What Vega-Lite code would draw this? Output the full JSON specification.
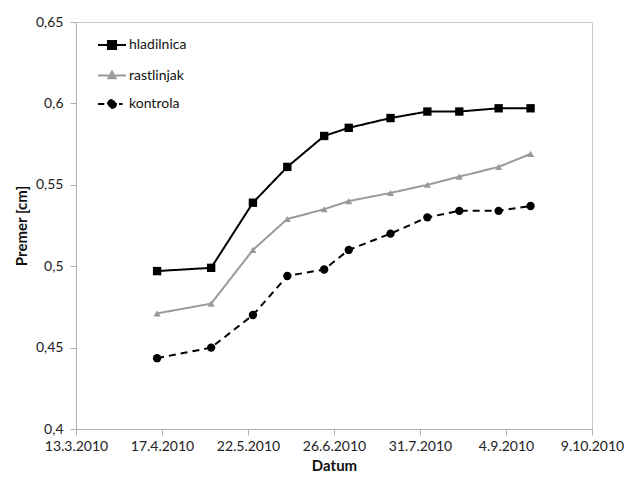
{
  "$schema": "https://vega.github.io/schema/vega-lite/v6.json",
  "width": 516,
  "height": 407,
  "autosize": {"type": "none"},
  "padding": {"left": 76, "top": 22, "right": 34, "bottom": 53},
  "background": "white",
  "config": {
    "font": "Lato",
    "view": {"stroke": "#c8c8c8", "strokeWidth": 1},
    "axis": {
      "grid": false,
      "domainColor": "#b0b0b0",
      "tickColor": "#b0b0b0",
      "tickSize": 6,
      "labelFont": "Lato",
      "labelFontSize": 14,
      "labelColor": "#222",
      "titleFont": "Lato",
      "titleFontSize": 15,
      "titleFontWeight": "bold",
      "titleColor": "#111"
    }
  },
  "data": {
    "values": [
      {"date": "2010-04-15", "series": "hladilnica", "value": 0.497},
      {"date": "2010-05-07", "series": "hladilnica", "value": 0.499},
      {"date": "2010-05-24", "series": "hladilnica", "value": 0.539},
      {"date": "2010-06-07", "series": "hladilnica", "value": 0.561},
      {"date": "2010-06-22", "series": "hladilnica", "value": 0.580},
      {"date": "2010-07-02", "series": "hladilnica", "value": 0.585},
      {"date": "2010-07-19", "series": "hladilnica", "value": 0.591},
      {"date": "2010-08-03", "series": "hladilnica", "value": 0.595},
      {"date": "2010-08-16", "series": "hladilnica", "value": 0.595},
      {"date": "2010-09-01", "series": "hladilnica", "value": 0.597},
      {"date": "2010-09-14", "series": "hladilnica", "value": 0.597},
      {"date": "2010-04-15", "series": "rastlinjak", "value": 0.471},
      {"date": "2010-05-07", "series": "rastlinjak", "value": 0.477},
      {"date": "2010-05-24", "series": "rastlinjak", "value": 0.510},
      {"date": "2010-06-07", "series": "rastlinjak", "value": 0.529},
      {"date": "2010-06-22", "series": "rastlinjak", "value": 0.535},
      {"date": "2010-07-02", "series": "rastlinjak", "value": 0.540},
      {"date": "2010-07-19", "series": "rastlinjak", "value": 0.545},
      {"date": "2010-08-03", "series": "rastlinjak", "value": 0.550},
      {"date": "2010-08-16", "series": "rastlinjak", "value": 0.555},
      {"date": "2010-09-01", "series": "rastlinjak", "value": 0.561},
      {"date": "2010-09-14", "series": "rastlinjak", "value": 0.569},
      {"date": "2010-04-15", "series": "kontrola", "value": 0.4435},
      {"date": "2010-05-07", "series": "kontrola", "value": 0.450},
      {"date": "2010-05-24", "series": "kontrola", "value": 0.470},
      {"date": "2010-06-07", "series": "kontrola", "value": 0.494},
      {"date": "2010-06-22", "series": "kontrola", "value": 0.498},
      {"date": "2010-07-02", "series": "kontrola", "value": 0.510},
      {"date": "2010-07-19", "series": "kontrola", "value": 0.520},
      {"date": "2010-08-03", "series": "kontrola", "value": 0.530},
      {"date": "2010-08-16", "series": "kontrola", "value": 0.534},
      {"date": "2010-09-01", "series": "kontrola", "value": 0.534},
      {"date": "2010-09-14", "series": "kontrola", "value": 0.537}
    ]
  },
  "encoding": {
    "x": {
      "field": "date",
      "type": "temporal",
      "title": "Datum",
      "scale": {
        "type": "utc",
        "domain": [
          {"year": 2010, "month": 3, "date": 13, "utc": true},
          {"year": 2010, "month": 10, "date": 9, "utc": true}
        ]
      },
      "axis": {
        "values": [
          {"year": 2010, "month": 3, "date": 13, "utc": true},
          {"year": 2010, "month": 4, "date": 17, "utc": true},
          {"year": 2010, "month": 5, "date": 22, "utc": true},
          {"year": 2010, "month": 6, "date": 26, "utc": true},
          {"year": 2010, "month": 7, "date": 31, "utc": true},
          {"year": 2010, "month": 9, "date": 4, "utc": true},
          {"year": 2010, "month": 10, "date": 9, "utc": true}
        ],
        "labelExpr": "utcFormat(datum.value, '%-d.%-m.%Y')",
        "labelPadding": 4,
        "titlePadding": 5,
        "labelFlush": false,
        "labelOverlap": false
      }
    },
    "y": {
      "field": "value",
      "type": "quantitative",
      "title": "Premer [cm]",
      "scale": {"domain": [0.4, 0.65], "nice": false, "zero": false},
      "axis": {
        "values": [0.4, 0.45, 0.5, 0.55, 0.6, 0.65],
        "labelExpr": "replace(format(datum.value, '.2~f'), '.', ',')",
        "labelPadding": 7,
        "titlePadding": 6
      }
    },
    "color": {
      "field": "series",
      "type": "nominal",
      "scale": {"domain": ["hladilnica", "rastlinjak", "kontrola"], "range": ["#000000", "#9a9a9a", "#000000"]},
      "legend": {
        "title": null,
        "orient": "none",
        "legendX": 21,
        "legendY": 8,
        "padding": 0,
        "symbolSize": 784,
        "symbolStrokeWidth": 2,
        "labelFont": "Lato",
        "labelFontSize": 14,
        "labelColor": "#111",
        "labelOffset": 2,
        "rowPadding": 6.5,
        "encode": {
          "symbols": {
            "update": {
              "opacity": {"value": 1},
              "fillOpacity": {"value": 1},
              "strokeOpacity": {"value": 1},
              "strokeWidth": {"value": 2},
              "strokeDash": {"value": []},
              "shape": {"signal": "datum.value === 'hladilnica' ? 'M-1,0H1M-0.29,-0.29H0.29V0.29H-0.29Z' : datum.value === 'rastlinjak' ? 'M-1,0H1M0,-0.28L0.26,0.2H-0.26Z' : 'M-1,0H-0.55M0.5,0H0.75M0.29,0A0.29,0.29 0 1,1 -0.29,0A0.29,0.29 0 1,1 0.29,0Z'"},
              "fill": {"signal": "datum.value === 'rastlinjak' ? '#9a9a9a' : '#000000'"},
              "stroke": {"signal": "datum.value === 'rastlinjak' ? '#9a9a9a' : '#000000'"}
            }
          }
        }
      }
    }
  },
  "layer": [
    {
      "mark": {"type": "line", "strokeWidth": 2},
      "encoding": {
        "strokeDash": {
          "field": "series",
          "type": "nominal",
          "scale": {"domain": ["hladilnica", "rastlinjak", "kontrola"], "range": [[1, 0], [1, 0], [7, 5]]},
          "legend": null
        }
      }
    },
    {
      "transform": [{"filter": "datum.series === 'hladilnica'"}],
      "mark": {"type": "point", "filled": true, "opacity": 1, "size": 70, "shape": "square"}
    },
    {
      "transform": [{"filter": "datum.series === 'rastlinjak'"}],
      "mark": {"type": "point", "filled": true, "opacity": 1, "size": 50, "shape": "triangle-up"}
    },
    {
      "transform": [{"filter": "datum.series === 'kontrola'"}],
      "mark": {"type": "point", "filled": true, "opacity": 1, "size": 70, "shape": "circle"}
    }
  ]
}
